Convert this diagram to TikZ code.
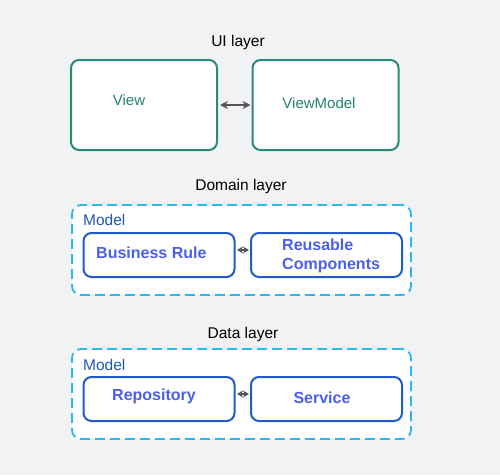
\documentclass[tikz,border=0pt]{standalone}
\usepackage{fontspec}
\setmainfont{Liberation Sans}
\usetikzlibrary{arrows.meta}
\definecolor{bg}{HTML}{F1F2F4}
\definecolor{teal}{HTML}{2A8A78}
\definecolor{tealtext}{HTML}{23836F}
\definecolor{dashblue}{HTML}{2DB5F5}
\definecolor{boxblue}{HTML}{1F5CC4}
\definecolor{modelblue}{HTML}{1E5AB4}
\definecolor{itemblue}{HTML}{4A5FEA}
\definecolor{arrowgray}{HTML}{555555}
\tikzset{
  uibox/.style={draw=teal, line width=2pt, rounded corners=8pt, fill=white, minimum width=146pt, minimum height=90pt, inner sep=0pt},
  layerbox/.style={draw=dashblue, line width=1.8pt, dash pattern=on 10pt off 5pt, rounded corners=9pt, fill=white, minimum width=339pt, minimum height=90pt, inner sep=0pt},
  itembox/.style={draw=boxblue, line width=2pt, rounded corners=8pt, fill=white, minimum width=151pt, minimum height=44pt, inner sep=0pt},
  layertitle/.style={font=\fontsize{15.5}{18}\selectfont, text=black},
  uitext/.style={font=\fontsize{15}{17}\selectfont, text=tealtext},
  modeltext/.style={font=\fontsize{15.5}{17}\selectfont, text=modelblue, anchor=west, inner sep=0pt},
  itemtext/.style={font=\bfseries\fontsize{16}{19}\selectfont, text=itemblue, align=left, inner sep=0pt},
  link/.style={draw=arrowgray, line width=1.8pt, {Stealth[length=8pt,width=8pt]}-{Stealth[length=8pt,width=8pt]}},
  smalllink/.style={draw=arrowgray, line width=1.5pt, {Stealth[length=6pt,width=7pt]}-{Stealth[length=6pt,width=7pt]}},
}
\begin{document}
\begin{tikzpicture}[x=1pt,y=-1pt]
\fill[bg] (0,0) rectangle (500,475);
\useasboundingbox (0,0) rectangle (500,475);
% UI layer
\node[layertitle] (uit) at (238,42) {UI layer};
\node[uibox] (viewbox) at (144,105) {};
\node[uibox] (vmbox) at (325.5,105) {};
\node[uitext] (view) at (129,100) {View};
\node[uitext] (vm) at (319,103) {ViewModel};
\draw[link] ([xshift=2pt]viewbox.east) -- ([xshift=-1pt]vmbox.west);
% Domain layer
\node[layertitle] (dt) at (241,186) {Domain layer};
\node[layerbox] (domain) at (241.5,250) {};
\node[modeltext] (dm) at (83,220) {Model};
\node[itembox] (brbox) at (159,255) {};
\node[itembox] (rcbox) at (326.5,255) {};
\node[itemtext, anchor=west] (br) at (96,253) {Business Rule};
\node[itemtext, anchor=west] (rc) at (282,256) {Reusable\\Components};
\draw[smalllink] ([shift={(1.5pt,5pt)}]brbox.east) -- ([shift={(-1pt,5pt)}]rcbox.west);
% Data layer
\node[layertitle] (dat) at (243,334) {Data layer};
\node[layerbox] (data) at (241.5,394) {};
\node[modeltext] (dm2) at (83,365) {Model};
\node[itembox] (repobox) at (159,399) {};
\node[itembox] (servbox) at (326.5,399) {};
\node[itemtext] (repo) at (154,396) {Repository};
\node[itemtext] (serv) at (322,398) {Service};
\draw[smalllink] ([shift={(1.5pt,5pt)}]repobox.east) -- ([shift={(-1pt,5pt)}]servbox.west);
\end{tikzpicture}
\end{document}
